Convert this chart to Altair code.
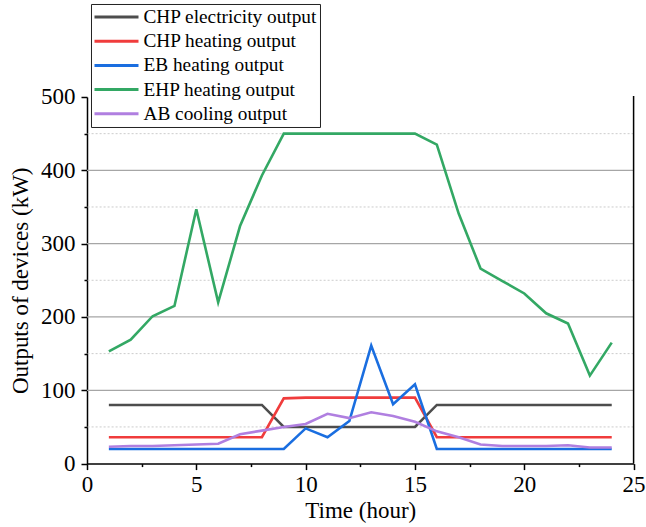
import altair as alt
import pandas as pd

hours = list(range(1, 25))
series_names = ["CHP electricity output", "CHP heating output", "EB heating output",
                "EHP heating output", "AB cooling output"]
series_colors = ["#4d4d4d", "#f03c3c", "#1a6ee0", "#33a864", "#b07fe0"]

chp_elec = [80, 80, 80, 80, 80, 80, 80, 80, 50, 50, 50, 50, 50, 50, 50, 80, 80, 80, 80, 80, 80, 80, 80, 80]
chp_heat = [36, 36, 36, 36, 36, 36, 36, 36, 89, 90, 90, 90, 90, 90, 90, 36, 36, 36, 36, 36, 36, 36, 36, 36]
eb_heat = [20, 20, 20, 20, 20, 20, 20, 20, 20, 48, 36, 58, 161, 81, 108, 20, 20, 20, 20, 20, 20, 20, 20, 20]
ehp_heat = [153, 169, 201, 215, 347, 220, 324, 393, 450, 450, 450, 450, 450, 450, 450, 435, 341, 266, 249, 232, 205, 191, 120, 165]
ab_cool = [23, 24, 24, 25, 26, 27, 40, 45, 50, 54, 68, 62, 70, 65, 57, 44, 36, 26, 24, 24, 24, 25, 22, 22]

x_ticks = [0, 2.5, 5, 7.5, 10, 12.5, 15, 17.5, 20, 22.5, 25]
y_ticks = [0, 50, 100, 150, 200, 250, 300, 350, 400, 450, 500]
y_major_grid = [100, 200, 300, 400]
y_minor_grid = [50, 150, 250, 350, 450]

rows = []
for name, vals in zip(series_names, [chp_elec, chp_heat, eb_heat, ehp_heat, ab_cool]):
    for h, v in zip(hours, vals):
        rows.append({"hour": h, "value": v, "series": name})
df = pd.DataFrame(rows)

W, H = 546.6, 366.6
FONT = "Times New Roman, Liberation Serif, serif"

xscale = alt.Scale(domain=[0, 25], nice=False, zero=False)
yscale = alt.Scale(domain=[0, 500], nice=False)

x_axis = alt.Axis(values=x_ticks, title="Time (hour)", grid=False, labelFlush=False,
                  labelExpr="datum.value % 5 === 0 ? datum.label : ''",
                  tickSize={"condition": {"test": "datum.value % 5 === 0", "value": 6}, "value": 3},
                  labelPadding=4, titlePadding=3)
y_axis = alt.Axis(values=y_ticks, title="Outputs of devices (kW)", grid=False, labelFlush=False,
                  labelExpr="datum.value % 100 === 0 ? datum.label : ''",
                  tickSize={"condition": {"test": "datum.value % 100 === 0", "value": 6}, "value": 3},
                  labelPadding=6, titlePadding=8)

major = alt.Chart(pd.DataFrame({"value": y_major_grid})).mark_rule(
    color="#a6a6a6", strokeWidth=1.2
).encode(y=alt.Y("value:Q", scale=yscale, axis=y_axis))

minor = alt.Chart(pd.DataFrame({"value": y_minor_grid})).mark_rule(
    color="#cccccc", strokeWidth=1, strokeDash=[2, 2]
).encode(y=alt.Y("value:Q", scale=yscale, axis=y_axis))

lines = alt.Chart(df).mark_line(strokeWidth=2.6).encode(
    x=alt.X("hour:Q", scale=xscale, axis=x_axis),
    y=alt.Y("value:Q", scale=yscale, axis=y_axis),
    color=alt.Color("series:N", sort=series_names,
                    scale=alt.Scale(domain=series_names, range=series_colors),
                    legend=alt.Legend(title=None, orient="none", legendX=4, legendY=-93,
                                      symbolType="stroke", symbolSize=1936, symbolStrokeWidth=3,
                                      clipHeight=22, rowPadding=2.2, padding=2,
                                      labelFont=FONT, labelFontSize=19.3, labelOffset=3.5,
                                      labelLimit=0, strokeColor="#222222", fillColor="white")),
    order=alt.Order("hour:Q"),
)

right = alt.Chart(pd.DataFrame({"a": [0]})).mark_rule(color="black", strokeWidth=1.5).encode(
    x=alt.datum(25, scale=xscale, axis=x_axis), y=alt.value(-1), y2=alt.value(H)
)

chart = alt.layer(major, minor, lines, right).properties(
    width=W, height=H,
    autosize=alt.AutoSizeParams(type="none"),
    padding={"left": 87, "top": 97, "right": 12, "bottom": 64},
).configure_view(stroke=None).configure_axis(
    domainColor="black", domainWidth=1.5, tickColor="black", tickWidth=1.5,
    labelFont=FONT, labelFontSize=23, labelColor="black",
    titleFont=FONT, titleFontSize=23, titleFontWeight="normal", titleColor="black",
)

chart.save("out.html", embed_options={"renderer": "svg", "actions": False})
